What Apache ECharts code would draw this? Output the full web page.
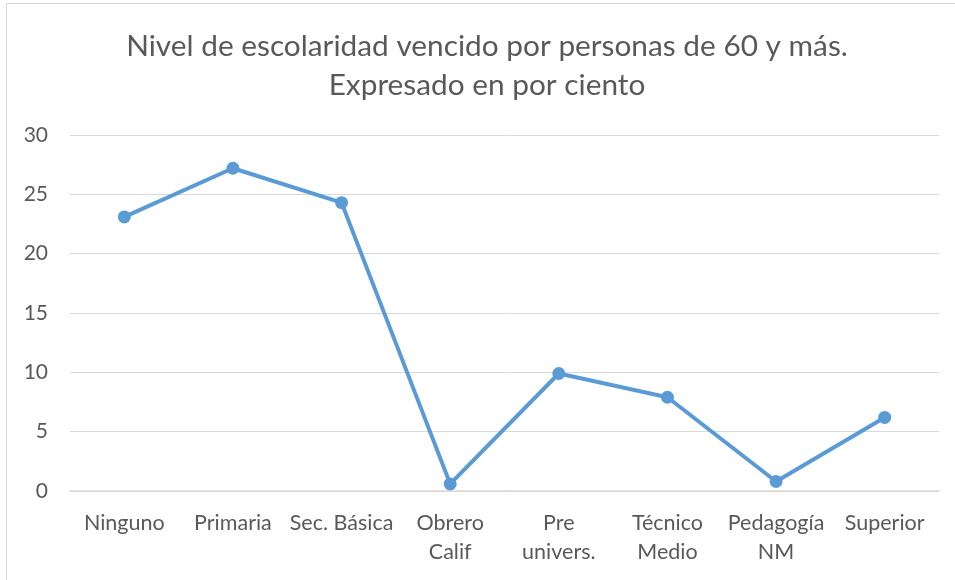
<!DOCTYPE html>
<html>
<head>
<meta charset="utf-8">
<script src="https://cdn.jsdelivr.net/npm/echarts@6/dist/echarts.min.js"></script>
<style>
html,body{margin:0;padding:0;background:#fff;}
#frame{position:absolute;left:6px;top:3px;width:960px;height:600px;border:1.5px solid #d9d9d9;box-sizing:border-box;}
#c{position:absolute;left:0;top:0;width:955px;height:580px;}
</style>
</head>
<body>
<div id="frame"></div>
<div id="c"></div>
<script>
var categories = ['Ninguno', 'Primaria', 'Sec. Básica', 'Obrero\nCalif', 'Pre\nunivers.', 'Técnico\nMedio', 'Pedagogía\nNM', 'Superior'];
var values = [23.1, 27.2, 24.3, 0.6, 9.9, 7.9, 0.8, 6.2];
var yTicks = [0, 5, 10, 15, 20, 25, 30];

var chart = echarts.init(document.getElementById('c'));
chart.setOption({
  animation: false,
  title: {
    text: 'Nivel de escolaridad vencido por personas de 60 y más.\nExpresado en por ciento',
    left: 482,
    textAlign: 'center',
    top: 22,
    textStyle: {fontFamily: 'Lato', fontSize: 29.8, fontWeight: 'normal', color: '#595959', lineHeight: 39}
  },
  grid: {left: 70, right: 16, top: 135, bottom: 89, containLabel: false},
  xAxis: {
    type: 'category',
    data: categories,
    boundaryGap: true,
    axisLine: {lineStyle: {color: '#d9d9d9', width: 1.5}},
    axisTick: {show: false},
    axisLabel: {fontFamily: 'Lato', fontSize: 21.5, color: '#595959', margin: 18, lineHeight: 29, interval: 0}
  },
  yAxis: {
    type: 'value',
    min: yTicks[0],
    max: yTicks[yTicks.length - 1],
    interval: 5,
    axisLine: {show: false},
    axisTick: {show: false},
    splitLine: {lineStyle: {color: '#d9d9d9', width: 1}},
    axisLabel: {fontFamily: 'Lato', fontSize: 21, color: '#595959', margin: 22}
  },
  series: [{
    type: 'line',
    data: values,
    symbol: 'circle',
    symbolSize: 13,
    lineStyle: {color: '#5B9BD5', width: 4},
    itemStyle: {color: '#5B9BD5'}
  }]
});
</script>
</body>
</html>
